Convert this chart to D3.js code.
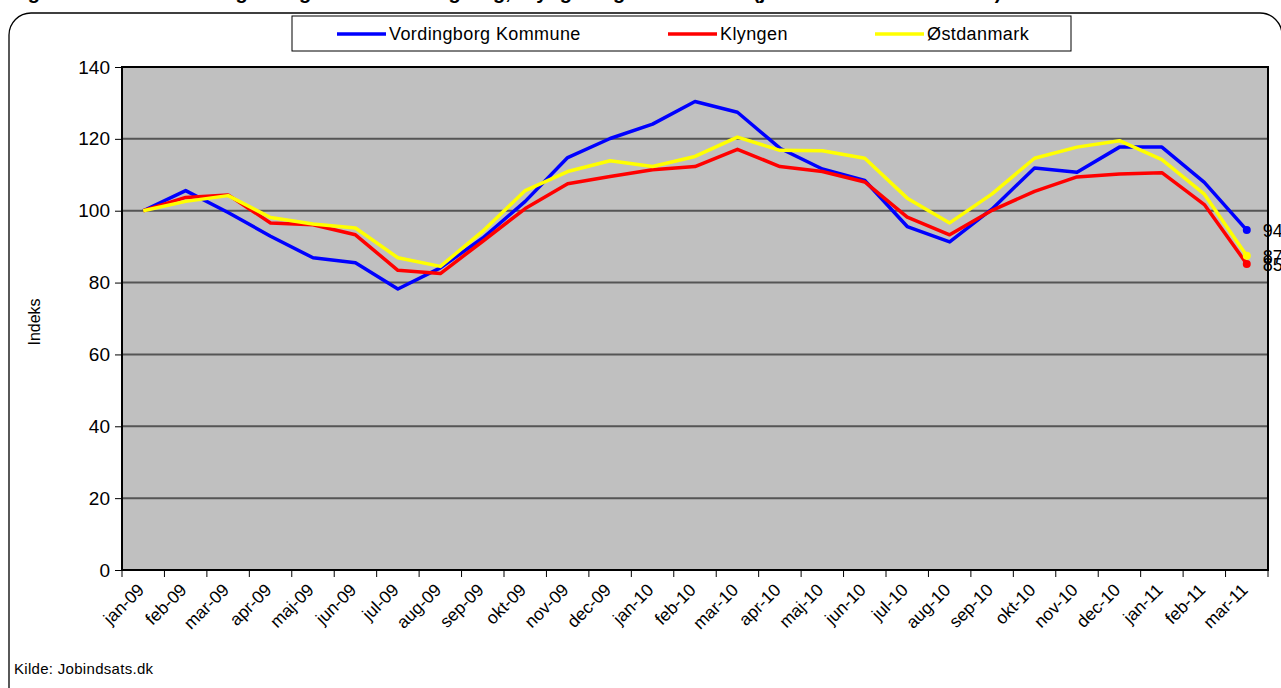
<!DOCTYPE html>
<html>
<head>
<meta charset="utf-8">
<script src="https://cdn.jsdelivr.net/npm/d3@7"></script>
<style>
  body { margin: 0; background: #fff; }
  svg { display: block; font-family: "Liberation Sans", Arial, sans-serif; }
</style>
</head>
<body>
<div id="chart"></div>
<script>
(() => {

  let months = ['jan-09', 'feb-09', 'mar-09', 'apr-09', 'maj-09', 'jun-09', 'jul-09', 'aug-09', 'sep-09',
    'okt-09', 'nov-09', 'dec-09', 'jan-10', 'feb-10', 'mar-10', 'apr-10', 'maj-10', 'jun-10', 'jul-10',
    'aug-10', 'sep-10', 'okt-10', 'nov-10', 'dec-10', 'jan-11', 'feb-11', 'mar-11'];

  let vordingborg = [100, 105.6, 99.5, 92.9, 86.9, 85.5, 78.2, 84.1, 92.4, 102.6, 114.8, 120.1, 124.1,
    130.4, 127.4, 117.4, 111.6, 108.4, 95.6, 91.3, 100.5, 111.9, 110.7, 117.7, 117.7, 107.9, 94.6];
  let klyngen = [100, 103.7, 104.4, 96.6, 96.1, 93.3, 83.4, 82.5, 91.5, 100.6, 107.5, 109.5, 111.4,
    112.3, 117.1, 112.3, 110.9, 108.0, 98.2, 93.3, 100.1, 105.4, 109.4, 110.2, 110.6, 101.7, 85.2];
  let ostdanmark = [100, 102.6, 104.2, 98.1, 96.3, 95.2, 86.9, 84.5, 94.3, 105.6, 110.9, 113.9, 112.3,
    115.1, 120.5, 116.8, 116.7, 114.6, 103.5, 96.6, 104.7, 114.6, 117.7, 119.5, 114.2, 104.6, 87.5];

  let yTicks = [0, 20, 40, 60, 80, 100, 120, 140];

  let series = [
    { name: 'Vordingborg Kommune', values: vordingborg, color: '#0000ff' },
    { name: 'Klyngen', values: klyngen, color: '#ff0000' },
    { name: 'Østdanmark', values: ostdanmark, color: '#ffff00' }
  ];

  let W = 1281, H = 688;
  let plot = { left: 122, right: 1268, top: 67, bottom: 570 };

  let svg = d3.select('#chart').append('svg')
    .attr('width', W)
    .attr('height', H);

  // title, cut by the top of the picture (only descenders show)
  svg.append('text')
    .attr('x', 10).attr('y', -1)
    .style('font-size', '20px').style('font-weight', 'bold')
    .text('Figur 3: Relativ udvikling i ledigheden i Vordingborg, Klyngen og Østdanmark (januar 2009 = indeks 100)');

  // outer rounded frame
  svg.append('rect')
    .attr('x', 9).attr('y', 13)
    .attr('width', 1273).attr('height', 700)
    .attr('rx', 22)
    .attr('fill', 'none').attr('stroke', '#000').attr('stroke-width', 1.3);

  let x = d3.scaleBand().domain(months).range([plot.left, plot.right]).padding(0);
  let y = d3.scaleLinear().domain([0, 140]).range([plot.bottom, plot.top]);

  svg.append('rect')
    .attr('x', plot.left).attr('y', plot.top)
    .attr('width', plot.right - plot.left).attr('height', plot.bottom - plot.top)
    .attr('fill', '#c0c0c0');

  // gridlines
  svg.append('g').selectAll('line')
    .data(yTicks.filter(d => d > 0 && d < 140))
    .enter().append('line')
    .attr('x1', plot.left).attr('x2', plot.right)
    .attr('y1', d => y(d)).attr('y2', d => y(d))
    .attr('stroke', '#555').attr('stroke-width', 2);

  // y axis
  let yAxis = d3.axisLeft(y).tickValues(yTicks).tickSize(7).tickPadding(5);
  let gy = svg.append('g').attr('transform', `translate(${plot.left},0)`).call(yAxis);
  gy.select('.domain').remove();
  gy.selectAll('.tick line').attr('stroke', '#000').attr('stroke-width', 1);
  gy.selectAll('.tick text').style('font-size', '19px').attr('fill', '#000');

  // x axis: ticks between categories
  let edges = months.map(m => x(m)).concat([plot.right]);
  svg.append('g').selectAll('line')
    .data(edges)
    .enter().append('line')
    .attr('x1', d => d).attr('x2', d => d)
    .attr('y1', plot.bottom).attr('y2', plot.bottom + 7)
    .attr('stroke', '#000');

  let xAxis = d3.axisBottom(x).tickSize(0).tickPadding(0);
  let gx = svg.append('g').attr('transform', `translate(0,${plot.bottom})`).call(xAxis);
  gx.select('.domain').remove();
  gx.selectAll('.tick text')
    .style('font-size', '17.5px').attr('fill', '#000')
    .attr('text-anchor', 'end')
    .attr('dy', 0)
    .attr('transform', 'translate(2,21) rotate(-45)');

  // plot border
  svg.append('rect')
    .attr('x', plot.left).attr('y', plot.top)
    .attr('width', plot.right - plot.left).attr('height', plot.bottom - plot.top)
    .attr('fill', 'none').attr('stroke', '#000').attr('stroke-width', 2);

  // lines
  let line = d3.line()
    .x((d, i) => x(months[i]) + x.bandwidth() / 2)
    .y(d => y(d));

  let lastIdx = months.length - 1;
  series.forEach(s => {
    svg.append('path')
      .datum(s.values)
      .attr('d', line)
      .attr('fill', 'none')
      .attr('stroke', s.color)
      .attr('stroke-width', 3.5)
      .attr('stroke-linejoin', 'round');
    svg.append('circle')
      .attr('cx', x(months[lastIdx]) + x.bandwidth() / 2)
      .attr('cy', y(s.values[lastIdx]))
      .attr('r', 4)
      .attr('fill', s.color);
  });

  // end labels
  series.forEach(s => {
    svg.append('text')
      .attr('x', x(months[lastIdx]) + x.bandwidth() / 2 + 16)
      .attr('y', y(s.values[lastIdx]) + 7)
      .style('font-size', '18px')
      .text(Math.floor(s.values[lastIdx]));
  });

  // y label
  svg.append('text')
    .attr('transform', 'translate(40,322) rotate(-90)')
    .attr('text-anchor', 'middle')
    .style('font-size', '16px')
    .text('Indeks');

  // legend
  let lg = svg.append('g');
  lg.append('rect')
    .attr('x', 292).attr('y', 16).attr('width', 779).attr('height', 35)
    .attr('fill', '#fff').attr('stroke', '#000').attr('stroke-width', 1);
  let legendX = [337, 668, 875];
  series.forEach((s, i) => {
    lg.append('line')
      .attr('x1', legendX[i]).attr('x2', legendX[i] + 49)
      .attr('y1', 34).attr('y2', 34)
      .attr('stroke', s.color).attr('stroke-width', 3.5);
    lg.append('text')
      .attr('x', legendX[i] + 52).attr('y', 40)
      .style('font-size', '18px')
      .style('letter-spacing', '0.4px')
      .text(s.name);
  });

  // source
  svg.append('text')
    .attr('x', 14).attr('y', 674)
    .style('font-size', '15px')
    .style('letter-spacing', '0.3px')
    .text('Kilde: Jobindsats.dk');

})()
</script>
</body>
</html>
